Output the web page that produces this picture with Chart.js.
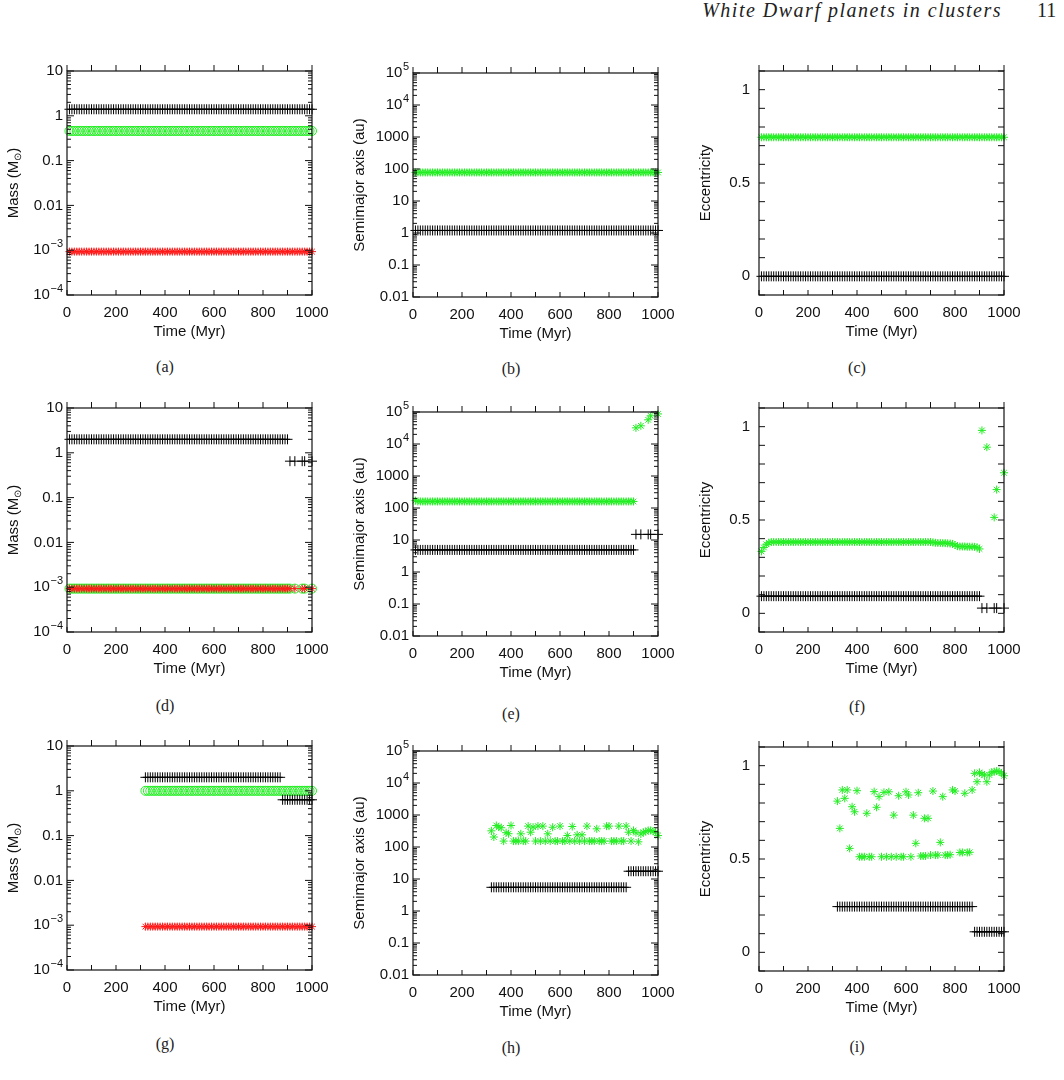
<!DOCTYPE html>
<html>
<head>
<meta charset="utf-8">
<script src="https://cdn.jsdelivr.net/npm/chart.js@4.4.1/dist/chart.umd.min.js"></script>
<style>
  body { margin: 0; width: 1064px; height: 1080px; background: #fff; position: relative; overflow: hidden; }
  canvas { position: absolute; }
  .sub { position: absolute; font-family: "Liberation Serif", serif; font-size: 16px; color: #222; transform: translate(-50%, -50%); }
  #head { position: absolute; right: 62px; top: 0; line-height: 20px; font-family: "Liberation Serif", serif; font-style: italic; font-size: 20px; letter-spacing: 1.5px; color: #222; }
  #page { position: absolute; left: 1037px; top: 0; line-height: 20px; font-family: "Liberation Serif", serif; font-size: 20px; color: #222; }
</style>
</head>
<body>
<div id="head">White Dwarf planets in clusters</div>
<div id="page">11</div>

<canvas id="pa" width="345" height="288" style="left:-3px;top:59px"></canvas>
<canvas id="pb" width="345" height="288" style="left:343px;top:61px"></canvas>
<canvas id="pc" width="345" height="288" style="left:689px;top:59px"></canvas>
<canvas id="pd" width="345" height="288" style="left:-3px;top:396px"></canvas>
<canvas id="pe" width="345" height="288" style="left:343px;top:400px"></canvas>
<canvas id="pf" width="345" height="288" style="left:689px;top:396px"></canvas>
<canvas id="pg" width="345" height="288" style="left:-3px;top:734px"></canvas>
<canvas id="ph" width="345" height="288" style="left:343px;top:739px"></canvas>
<canvas id="pi" width="345" height="288" style="left:689px;top:735px"></canvas>

<div class="sub" style="left:165px;top:367px">(a)</div>
<div class="sub" style="left:511px;top:369px">(b)</div>
<div class="sub" style="left:857px;top:368px">(c)</div>
<div class="sub" style="left:165px;top:706px">(d)</div>
<div class="sub" style="left:511px;top:714px">(e)</div>
<div class="sub" style="left:857px;top:707px">(f)</div>
<div class="sub" style="left:165px;top:1044px">(g)</div>
<div class="sub" style="left:511px;top:1048px">(h)</div>
<div class="sub" style="left:857px;top:1047px">(i)</div>

<script>
// ---------------- TICKS ----------------
const xTicks = [0, 200, 400, 600, 800, 1000];
const massTicks = [1e-4, 1e-3, 0.01, 0.1, 1, 10];
const massTickLabels = ["10^−4", "10^−3", "0.01", "0.1", "1", "10"];
const smaTicks = [0.01, 0.1, 1, 10, 100, 1000, 1e4, 1e5];
const smaTickLabels = ["0.01", "0.1", "1", "10", "100", "1000", "10^4", "10^5"];
const eccTicks = [0, 0.5, 1];
const eccTickLabels = ["0", "0.5", "1"];

// ---------------- TIMES (Myr) ----------------
const timeA = [
  10,20,30,40,50,60,70,80,90,100,
  110,120,130,140,150,160,170,180,190,200,
  210,220,230,240,250,260,270,280,290,300,
  310,320,330,340,350,360,370,380,390,400,
  410,420,430,440,450,460,470,480,490,500,
  510,520,530,540,550,560,570,580,590,600,
  610,620,630,640,650,660,670,680,690,700,
  710,720,730,740,750,760,770,780,790,800,
  810,820,830,840,850,860,870,880,890,900,
  910,920,930,940,950,960,970,980,990,1000
];
const timeD = [
  10,20,30,40,50,60,70,80,90,100,
  110,120,130,140,150,160,170,180,190,200,
  210,220,230,240,250,260,270,280,290,300,
  310,320,330,340,350,360,370,380,390,400,
  410,420,430,440,450,460,470,480,490,500,
  510,520,530,540,550,560,570,580,590,600,
  610,620,630,640,650,660,670,680,690,700,
  710,720,730,740,750,760,770,780,790,800,
  810,820,830,840,850,860,870,880,890,900,
  910,930,960,970,1000
];
const timeG = [
  320,330,340,350,360,370,380,390,400,
  410,420,430,440,450,460,470,480,490,500,
  510,520,530,540,550,560,570,580,590,600,
  610,620,630,640,650,660,670,680,690,700,
  710,720,730,740,750,760,770,780,790,800,
  810,820,830,840,850,860,870,880,890,900,
  910,920,930,940,950,960,970,980,990,1000
];
const timeI = [
  320,330,340,350,360,370,380,390,400,410,
  420,430,440,450,460,470,480,490,500,510,
  520,530,540,550,560,570,580,590,600,610,
  620,630,640,650,
  660,670,675,680,690,
  700,710,720,730,740,750,760,770,780,790,800,
  820,830,840,850,860,870,
  880,890,900,910,920,930,940,950,960,970,980,990,1000
];

// ---------------- PANEL (a) ----------------
const massStarA = [
  1.4,1.4,1.4,1.4,1.4,1.4,1.4,1.4,1.4,1.4, 1.4,1.4,1.4,1.4,1.4,1.4,1.4,1.4,1.4,1.4,
  1.4,1.4,1.4,1.4,1.4,1.4,1.4,1.4,1.4,1.4, 1.4,1.4,1.4,1.4,1.4,1.4,1.4,1.4,1.4,1.4,
  1.4,1.4,1.4,1.4,1.4,1.4,1.4,1.4,1.4,1.4, 1.4,1.4,1.4,1.4,1.4,1.4,1.4,1.4,1.4,1.4,
  1.4,1.4,1.4,1.4,1.4,1.4,1.4,1.4,1.4,1.4, 1.4,1.4,1.4,1.4,1.4,1.4,1.4,1.4,1.4,1.4,
  1.4,1.4,1.4,1.4,1.4,1.4,1.4,1.4,1.4,1.4, 1.4,1.4,1.4,1.4,1.4,1.4,1.4,1.4,1.4,1.4
];
const massCompA = [
  .46,.46,.46,.46,.46,.46,.46,.46,.46,.46, .46,.46,.46,.46,.46,.46,.46,.46,.46,.46,
  .46,.46,.46,.46,.46,.46,.46,.46,.46,.46, .46,.46,.46,.46,.46,.46,.46,.46,.46,.46,
  .46,.46,.46,.46,.46,.46,.46,.46,.46,.46, .46,.46,.46,.46,.46,.46,.46,.46,.46,.46,
  .46,.46,.46,.46,.46,.46,.46,.46,.46,.46, .46,.46,.46,.46,.46,.46,.46,.46,.46,.46,
  .46,.46,.46,.46,.46,.46,.46,.46,.46,.46, .46,.46,.46,.46,.46,.46,.46,.46,.46,.46
];
const massPlanA = [
  9.3e-4,9.3e-4,9.3e-4,9.3e-4,9.3e-4,9.3e-4,9.3e-4,9.3e-4,9.3e-4,9.3e-4,
  9.3e-4,9.3e-4,9.3e-4,9.3e-4,9.3e-4,9.3e-4,9.3e-4,9.3e-4,9.3e-4,9.3e-4,
  9.3e-4,9.3e-4,9.3e-4,9.3e-4,9.3e-4,9.3e-4,9.3e-4,9.3e-4,9.3e-4,9.3e-4,
  9.3e-4,9.3e-4,9.3e-4,9.3e-4,9.3e-4,9.3e-4,9.3e-4,9.3e-4,9.3e-4,9.3e-4,
  9.3e-4,9.3e-4,9.3e-4,9.3e-4,9.3e-4,9.3e-4,9.3e-4,9.3e-4,9.3e-4,9.3e-4,
  9.3e-4,9.3e-4,9.3e-4,9.3e-4,9.3e-4,9.3e-4,9.3e-4,9.3e-4,9.3e-4,9.3e-4,
  9.3e-4,9.3e-4,9.3e-4,9.3e-4,9.3e-4,9.3e-4,9.3e-4,9.3e-4,9.3e-4,9.3e-4,
  9.3e-4,9.3e-4,9.3e-4,9.3e-4,9.3e-4,9.3e-4,9.3e-4,9.3e-4,9.3e-4,9.3e-4,
  9.3e-4,9.3e-4,9.3e-4,9.3e-4,9.3e-4,9.3e-4,9.3e-4,9.3e-4,9.3e-4,9.3e-4,
  9.3e-4,9.3e-4,9.3e-4,9.3e-4,9.3e-4,9.3e-4,9.3e-4,9.3e-4,9.3e-4,9.3e-4
];

// ---------------- PANEL (b) ----------------
const smaPlanB = [
  78,78,78,78,78,78,78,78,78,78, 78,78,78,78,78,78,78,78,78,78,
  78,78,78,78,78,78,78,78,78,78, 78,78,78,78,78,78,78,78,78,78,
  78,78,78,78,78,78,78,78,78,78, 78,78,78,78,78,78,78,78,78,78,
  78,78,78,78,78,78,78,78,78,78, 78,78,78,78,78,78,78,78,78,78,
  78,78,78,78,78,78,78,78,78,78, 78,78,78,78,78,78,78,78,78,78
];
const smaStarB = [
  1.2,1.2,1.2,1.2,1.2,1.2,1.2,1.2,1.2,1.2, 1.2,1.2,1.2,1.2,1.2,1.2,1.2,1.2,1.2,1.2,
  1.2,1.2,1.2,1.2,1.2,1.2,1.2,1.2,1.2,1.2, 1.2,1.2,1.2,1.2,1.2,1.2,1.2,1.2,1.2,1.2,
  1.2,1.2,1.2,1.2,1.2,1.2,1.2,1.2,1.2,1.2, 1.2,1.2,1.2,1.2,1.2,1.2,1.2,1.2,1.2,1.2,
  1.2,1.2,1.2,1.2,1.2,1.2,1.2,1.2,1.2,1.2, 1.2,1.2,1.2,1.2,1.2,1.2,1.2,1.2,1.2,1.2,
  1.2,1.2,1.2,1.2,1.2,1.2,1.2,1.2,1.2,1.2, 1.2,1.2,1.2,1.2,1.2,1.2,1.2,1.2,1.2,1.2
];

// ---------------- PANEL (c) ----------------
const eccPlanC = [
  .745,.745,.745,.745,.745,.745,.745,.745,.745,.745, .745,.745,.745,.745,.745,.745,.745,.745,.745,.745,
  .745,.745,.745,.745,.745,.745,.745,.745,.745,.745, .745,.745,.745,.745,.745,.745,.745,.745,.745,.745,
  .745,.745,.745,.745,.745,.745,.745,.745,.745,.745, .745,.745,.745,.745,.745,.745,.745,.745,.745,.745,
  .745,.745,.745,.745,.745,.745,.745,.745,.745,.745, .745,.745,.745,.745,.745,.745,.745,.745,.745,.745,
  .745,.745,.745,.745,.745,.745,.745,.745,.745,.745, .745,.745,.745,.745,.745,.745,.745,.745,.745,.745
];
const eccStarC = [
  0,0,0,0,0,0,0,0,0,0, 0,0,0,0,0,0,0,0,0,0, 0,0,0,0,0,0,0,0,0,0, 0,0,0,0,0,0,0,0,0,0,
  0,0,0,0,0,0,0,0,0,0, 0,0,0,0,0,0,0,0,0,0, 0,0,0,0,0,0,0,0,0,0, 0,0,0,0,0,0,0,0,0,0,
  0,0,0,0,0,0,0,0,0,0, 0,0,0,0,0,0,0,0,0,0
];

// ---------------- PANEL (d) ----------------
const massStarD = [
  2,2,2,2,2,2,2,2,2,2, 2,2,2,2,2,2,2,2,2,2, 2,2,2,2,2,2,2,2,2,2,
  2,2,2,2,2,2,2,2,2,2, 2,2,2,2,2,2,2,2,2,2, 2,2,2,2,2,2,2,2,2,2,
  2,2,2,2,2,2,2,2,2,2, 2,2,2,2,2,2,2,2,2,2, 2,2,2,2,2,2,2,2,2,2,
  .65,.65,.65,.65,.65
];
const massCompD = [
  9.3e-4,9.3e-4,9.3e-4,9.3e-4,9.3e-4,9.3e-4,9.3e-4,9.3e-4,9.3e-4,9.3e-4,
  9.3e-4,9.3e-4,9.3e-4,9.3e-4,9.3e-4,9.3e-4,9.3e-4,9.3e-4,9.3e-4,9.3e-4,
  9.3e-4,9.3e-4,9.3e-4,9.3e-4,9.3e-4,9.3e-4,9.3e-4,9.3e-4,9.3e-4,9.3e-4,
  9.3e-4,9.3e-4,9.3e-4,9.3e-4,9.3e-4,9.3e-4,9.3e-4,9.3e-4,9.3e-4,9.3e-4,
  9.3e-4,9.3e-4,9.3e-4,9.3e-4,9.3e-4,9.3e-4,9.3e-4,9.3e-4,9.3e-4,9.3e-4,
  9.3e-4,9.3e-4,9.3e-4,9.3e-4,9.3e-4,9.3e-4,9.3e-4,9.3e-4,9.3e-4,9.3e-4,
  9.3e-4,9.3e-4,9.3e-4,9.3e-4,9.3e-4,9.3e-4,9.3e-4,9.3e-4,9.3e-4,9.3e-4,
  9.3e-4,9.3e-4,9.3e-4,9.3e-4,9.3e-4,9.3e-4,9.3e-4,9.3e-4,9.3e-4,9.3e-4,
  9.3e-4,9.3e-4,9.3e-4,9.3e-4,9.3e-4,9.3e-4,9.3e-4,9.3e-4,9.3e-4,9.3e-4,
  9.3e-4,9.3e-4,9.3e-4,9.3e-4,9.3e-4
];
const massPlanD = [
  9.3e-4,9.3e-4,9.3e-4,9.3e-4,9.3e-4,9.3e-4,9.3e-4,9.3e-4,9.3e-4,9.3e-4,
  9.3e-4,9.3e-4,9.3e-4,9.3e-4,9.3e-4,9.3e-4,9.3e-4,9.3e-4,9.3e-4,9.3e-4,
  9.3e-4,9.3e-4,9.3e-4,9.3e-4,9.3e-4,9.3e-4,9.3e-4,9.3e-4,9.3e-4,9.3e-4,
  9.3e-4,9.3e-4,9.3e-4,9.3e-4,9.3e-4,9.3e-4,9.3e-4,9.3e-4,9.3e-4,9.3e-4,
  9.3e-4,9.3e-4,9.3e-4,9.3e-4,9.3e-4,9.3e-4,9.3e-4,9.3e-4,9.3e-4,9.3e-4,
  9.3e-4,9.3e-4,9.3e-4,9.3e-4,9.3e-4,9.3e-4,9.3e-4,9.3e-4,9.3e-4,9.3e-4,
  9.3e-4,9.3e-4,9.3e-4,9.3e-4,9.3e-4,9.3e-4,9.3e-4,9.3e-4,9.3e-4,9.3e-4,
  9.3e-4,9.3e-4,9.3e-4,9.3e-4,9.3e-4,9.3e-4,9.3e-4,9.3e-4,9.3e-4,9.3e-4,
  9.3e-4,9.3e-4,9.3e-4,9.3e-4,9.3e-4,9.3e-4,9.3e-4,9.3e-4,9.3e-4,9.3e-4,
  9.3e-4,9.3e-4,9.3e-4,9.3e-4,9.3e-4
];

// ---------------- PANEL (e) ----------------
const smaPlanE = [
  170,160,160,160,160,160,160,160,160,160, 160,160,160,160,160,160,160,160,160,160,
  160,160,160,160,160,160,160,160,160,160, 160,160,160,160,160,160,160,160,160,160,
  160,160,160,160,160,160,160,160,160,160, 160,160,160,160,160,160,160,160,160,160,
  160,160,160,160,160,160,160,160,160,160, 160,160,160,160,160,160,160,160,160,160,
  160,160,160,160,160,160,160,160,160,160,
  3.2e4,3.7e4,5.7e4,7.6e4,8.7e4
];
const smaStarE = [
  4.9,4.9,4.9,4.9,4.9,4.9,4.9,4.9,4.9,4.9, 4.9,4.9,4.9,4.9,4.9,4.9,4.9,4.9,4.9,4.9,
  4.9,4.9,4.9,4.9,4.9,4.9,4.9,4.9,4.9,4.9, 4.9,4.9,4.9,4.9,4.9,4.9,4.9,4.9,4.9,4.9,
  4.9,4.9,4.9,4.9,4.9,4.9,4.9,4.9,4.9,4.9, 4.9,4.9,4.9,4.9,4.9,4.9,4.9,4.9,4.9,4.9,
  4.9,4.9,4.9,4.9,4.9,4.9,4.9,4.9,4.9,4.9, 4.9,4.9,4.9,4.9,4.9,4.9,4.9,4.9,4.9,4.9,
  4.9,4.9,4.9,4.9,4.9,4.9,4.9,4.9,4.9,4.9,
  15,15,15,15,15
];

// ---------------- PANEL (f) ----------------
const eccPlanF = [
  .332,.353,.37,.378,.382,.382,.382,.382,.382,.382,
  .382,.382,.382,.382,.382,.382,.382,.382,.382,.382,
  .382,.382,.382,.382,.382,.382,.382,.382,.382,.382,
  .382,.382,.382,.382,.382,.382,.382,.382,.382,.382,
  .382,.382,.382,.382,.382,.382,.382,.382,.382,.382,
  .382,.382,.382,.382,.382,.382,.382,.382,.382,.382,
  .382,.382,.382,.382,.382,.382,.382,.382,.382,.382,
  .38,.378,.377,.377,.376,.376,.375,.374,.372,.366,
  .36,.358,.358,.358,.357,.357,.357,.356,.354,.345,
  .98,.89,.514,.663,.753
];
const eccStarF = [
  .092,.092,.092,.092,.092,.092,.092,.092,.092,.092, .092,.092,.092,.092,.092,.092,.092,.092,.092,.092,
  .092,.092,.092,.092,.092,.092,.092,.092,.092,.092, .092,.092,.092,.092,.092,.092,.092,.092,.092,.092,
  .092,.092,.092,.092,.092,.092,.092,.092,.092,.092, .092,.092,.092,.092,.092,.092,.092,.092,.092,.092,
  .092,.092,.092,.092,.092,.092,.092,.092,.092,.092, .092,.092,.092,.092,.092,.092,.092,.092,.092,.092,
  .092,.092,.092,.092,.092,.092,.092,.092,.092,.092,
  .028,.028,.028,.028,.028
];

// ---------------- PANEL (g) ----------------
const massStarG = [
  2,2,2,2,2,2,2,2,2, 2,2,2,2,2,2,2,2,2,2, 2,2,2,2,2,2,2,2,2,2,
  2,2,2,2,2,2,2,2,2,2, 2,2,2,2,2,2,2,2,2,2, 2,2,2,2,2,2,2,
  .63,.63,.63, .63,.63,.63,.63,.63,.63,.63,.63,.63,.63
];
const massCompG = [
  1,1,1,1,1,1,1,1,1, 1,1,1,1,1,1,1,1,1,1, 1,1,1,1,1,1,1,1,1,1,
  1,1,1,1,1,1,1,1,1,1, 1,1,1,1,1,1,1,1,1,1, 1,1,1,1,1,1,1,1,1,1,
  1,1,1,1,1,1,1,1,1,1
];
const massPlanG = [
  9.3e-4,9.3e-4,9.3e-4,9.3e-4,9.3e-4,9.3e-4,9.3e-4,9.3e-4,9.3e-4,
  9.3e-4,9.3e-4,9.3e-4,9.3e-4,9.3e-4,9.3e-4,9.3e-4,9.3e-4,9.3e-4,9.3e-4,
  9.3e-4,9.3e-4,9.3e-4,9.3e-4,9.3e-4,9.3e-4,9.3e-4,9.3e-4,9.3e-4,9.3e-4,
  9.3e-4,9.3e-4,9.3e-4,9.3e-4,9.3e-4,9.3e-4,9.3e-4,9.3e-4,9.3e-4,9.3e-4,
  9.3e-4,9.3e-4,9.3e-4,9.3e-4,9.3e-4,9.3e-4,9.3e-4,9.3e-4,9.3e-4,9.3e-4,
  9.3e-4,9.3e-4,9.3e-4,9.3e-4,9.3e-4,9.3e-4,9.3e-4,9.3e-4,9.3e-4,9.3e-4,
  9.3e-4,9.3e-4,9.3e-4,9.3e-4,9.3e-4,9.3e-4,9.3e-4,9.3e-4,9.3e-4,9.3e-4
];

// ---------------- PANEL (h) ----------------
const smaStarH = [
  5.5,5.5,5.5,5.5,5.5,5.5,5.5,5.5,5.5, 5.5,5.5,5.5,5.5,5.5,5.5,5.5,5.5,5.5,5.5,
  5.5,5.5,5.5,5.5,5.5,5.5,5.5,5.5,5.5,5.5, 5.5,5.5,5.5,5.5,5.5,5.5,5.5,5.5,5.5,5.5,
  5.5,5.5,5.5,5.5,5.5,5.5,5.5,5.5,5.5,5.5, 5.5,5.5,5.5,5.5,5.5,5.5,5.5,
  17.5,17.5,17.5, 17.5,17.5,17.5,17.5,17.5,17.5,17.5,17.5,17.5,17.5
];
const smaPlanH = [
  320,205,470,420,400,153,280,260,470,
  153,153,153,258,153,153,450,290,415,153,
  450,153,450,153,258,153,415,153,153,450,
  153,153,228,153,437,153,240,153,240,153,
  450,153,153,153,370,153,153,153,450,450,
  153,153,153,450,153,153,450,290,153,330,
  280,145,255,290,300,330,330,310,290,228
];

// ---------------- PANEL (i) ----------------
const eccStarI = [
  .245,.245,.245,.245,.245,.245,.245,.245,.245, .245,.245,.245,.245,.245,.245,.245,.245,.245,.245,
  .245,.245,.245,.245,.245,.245,.245,.245,.245,.245, .245,.245,.245,.245,.245,.245,.245,.245,.245,.245,
  .245,.245,.245,.245,.245,.245,.245,.245,.245,.245, .245,.245,.245,.245,.245,.245,.245,
  .11,.11,.11, .11,.11,.11,.11,.11,.11,.11,.11,.11,.11
];
const eccPlanI = [
  .81,.664,.87,.825,.87,.557,.78,.753,.866,.512,
  .512,.512,.745,.512,.512,.861,.777,.834,.512,.857,
  .512,.86,.512,.735,.512,.839,.512,.512,.86,.843,
  .512,.735,.584,.855,
  .516,.516,.718,.516,.718,
  .521,.864,.521,.521,.589,.834,.521,.521,.523,.87,.864,
  .535,.535,.852,.535,.536,.87,
  .959,.914,.964,.955,.95,.914,.95,.965,.968,.971,.968,.96,.946
];

// ---------------- STYLE ----------------
const GREEN = "#22ee22";
const RED = "#ff1a1a";
const INK = "#111";
const FONT = "'Liberation Sans', Arial, sans-serif";

function pts(xs, ys) {
    return xs.map((x, i) => ({ x, y: ys[i] }));
}

function plusSet(xs, ys) {
    return { data: pts(xs, ys), pointStyle: "cross", pointRadius: 5, borderColor: "#000", borderWidth: 1, clip: false };
}

function circleSet(xs, ys) {
    return { data: pts(xs, ys), pointStyle: "circle", pointRadius: 4.5, borderColor: GREEN,
             backgroundColor: "rgba(0,0,0,0)", borderWidth: 1, clip: false };
}

function starSet(xs, ys, color) {
    return { data: pts(xs, ys), pointStyle: "star", pointRadius: 4, borderColor: color, borderWidth: 1, clip: false };
}

// ---------------- AXES ----------------
const yInfo = {
    mass: { type: "logarithmic", min: 1e-4, max: 10, ticks: massTicks, labels: massTickLabels, pad: 4, title: ["Mass (M", "⊙", ")"] },
    sma:  { type: "logarithmic", min: 0.01, max: 1e5, ticks: smaTicks, labels: smaTickLabels, pad: 4, title: ["Semimajor axis (au)"] },
    ecc:  { type: "linear", min: -0.1, max: 1.1, ticks: eccTicks, labels: eccTickLabels, pad: 9, title: ["Eccentricity"] }
};

function yScale(kind) {
    const info = yInfo[kind];
    return {
        type: info.type,
        min: info.min,
        max: info.max,
        afterBuildTicks: s => { s.ticks = info.ticks.map(v => ({ value: v })); },
        afterFit: s => { s.width = 70; },
        grid: { display: false, drawTicks: false },
        border: { display: false },
        ticks: { display: false }
    };
}

const xScale = {
    type: "linear",
    min: 0,
    max: 1000,
    afterBuildTicks: s => { s.ticks = xTicks.map(v => ({ value: v })); },
    afterFit: s => { s.height = 52; },
    grid: { display: false, drawTicks: false },
    border: { display: false },
    ticks: { autoSkip: false, maxRotation: 0, padding: 9, color: INK, font: { family: FONT, size: 15 },
             callback: v => String(v) },
    title: { display: true, text: "Time (Myr)", color: INK, font: { family: FONT, size: 15 }, padding: { top: 0, bottom: 6 } }
};

// frame, inward ticks, y tick labels and the y title
const framePlugin = {
    id: "frame",
    afterDatasetsDraw(chart) {
        const { ctx, chartArea: a, scales: { x, y } } = chart;
        const info = yInfo[chart.options.plugins.frame.kind];
        ctx.save();
        ctx.strokeStyle = INK;
        ctx.lineWidth = 1.2;
        ctx.strokeRect(a.left, a.top, a.right - a.left, a.bottom - a.top);

        ctx.lineWidth = 1;
        ctx.beginPath();
        for (let v = 0; v <= 1000; v += 100) {
            const px = x.getPixelForValue(v);
            ctx.moveTo(px, a.bottom); ctx.lineTo(px, a.bottom - 5);
            ctx.moveTo(px, a.top); ctx.lineTo(px, a.top - 6);
        }
        if (info.type === "logarithmic") {
            const d0 = Math.round(Math.log10(info.min)), d1 = Math.round(Math.log10(info.max));
            for (let d = d0; d <= d1; d++) {
                for (let k = 1; k <= 9; k++) {
                    const v = k * Math.pow(10, d);
                    if (v > info.max * 1.0001) break;
                    const py = y.getPixelForValue(v);
                    const len = k === 1 ? 7 : 4;
                    ctx.moveTo(a.left, py); ctx.lineTo(a.left + len, py);
                    ctx.moveTo(a.right, py); ctx.lineTo(a.right - len, py);
                }
            }
        } else {
            for (let i = -1; i <= 11; i++) {
                const py = y.getPixelForValue(i / 10);
                ctx.moveTo(a.left, py); ctx.lineTo(a.left + 6, py);
                ctx.moveTo(a.right, py); ctx.lineTo(a.right - 6, py);
            }
        }
        ctx.stroke();

        const big = "15px " + FONT, small = "11px " + FONT;
        ctx.fillStyle = INK;
        ctx.textBaseline = "middle";
        ctx.textAlign = "left";

        // y tick labels, "10^n" drawn with a raised exponent
        info.ticks.forEach((v, i) => {
            const py = y.getPixelForValue(v);
            const [base, exp] = info.labels[i].split("^");
            ctx.font = big;
            const wb = ctx.measureText(base).width;
            ctx.font = small;
            const we = exp ? ctx.measureText(exp).width + 0.5 : 0;
            const x0 = a.left - info.pad - wb - we;
            ctx.font = big;
            ctx.fillText(base, x0, py);
            if (exp) {
                ctx.font = small;
                ctx.fillText(exp, x0 + wb + 0.5, py - 6);
            }
        });

        // y title, rotated, with optional subscript
        const parts = info.title;
        const sub = "10px " + FONT;
        const widths = parts.map((p, i) => { ctx.font = i === 1 ? sub : big; return ctx.measureText(p).width; });
        const total = widths.reduce((s, w) => s + w, 0);
        ctx.translate(a.left - 53, (a.top + a.bottom) / 2);
        ctx.rotate(-Math.PI / 2);
        let cx = -total / 2;
        parts.forEach((p, i) => {
            ctx.font = i === 1 ? sub : big;
            ctx.fillText(p, cx, i === 1 ? 4 : 0);
            cx += widths[i];
        });
        ctx.restore();
    }
};

// ---------------- PANELS ----------------
function makePanel(id, kind, datasets) {
    new Chart(document.getElementById(id), {
        type: "scatter",
        data: { datasets },
        options: {
            responsive: false,
            animation: false,
            events: [],
            devicePixelRatio: 1,
            layout: { padding: { left: 0, top: 12, right: 30, bottom: 0 } },
            scales: { x: xScale, y: yScale(kind) },
            plugins: { legend: { display: false }, tooltip: { enabled: false }, frame: { kind } }
        },
        plugins: [framePlugin]
    });
}

document.addEventListener("DOMContentLoaded", () => {
    makePanel("pa", "mass", [plusSet(timeA, massStarA), starSet(timeA, massPlanA, RED), circleSet(timeA, massCompA)]);
    makePanel("pb", "sma", [plusSet(timeA, smaStarB), starSet(timeA, smaPlanB, GREEN)]);
    makePanel("pc", "ecc", [plusSet(timeA, eccStarC), starSet(timeA, eccPlanC, GREEN)]);

    makePanel("pd", "mass", [plusSet(timeD, massStarD), starSet(timeD, massPlanD, RED), circleSet(timeD, massCompD)]);
    makePanel("pe", "sma", [plusSet(timeD, smaStarE), starSet(timeD, smaPlanE, GREEN)]);
    makePanel("pf", "ecc", [plusSet(timeD, eccStarF), starSet(timeD, eccPlanF, GREEN)]);

    makePanel("pg", "mass", [plusSet(timeG, massStarG), starSet(timeG, massPlanG, RED), circleSet(timeG, massCompG)]);
    makePanel("ph", "sma", [plusSet(timeG, smaStarH), starSet(timeG, smaPlanH, GREEN)]);
    makePanel("pi", "ecc", [plusSet(timeG, eccStarI), starSet(timeI, eccPlanI, GREEN)]);
});
</script>
</body>
</html>
